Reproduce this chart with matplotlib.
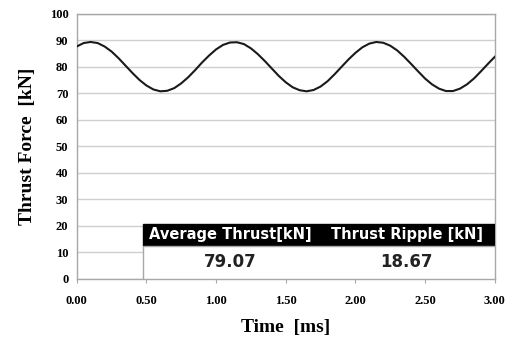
import matplotlib.pyplot as plt
from matplotlib.patches import Rectangle

# thrust force, every 0.05 ms
time_ms = [i * 0.05 for i in range(61)]
thrust_kn = [
    87.6, 88.9, 89.3, 88.9, 87.6, 85.7, 83.2, 80.4, 77.6, 75.0,
    72.9, 71.4, 70.7, 70.9, 71.9, 73.7, 76.0, 78.7, 81.6, 84.2,
    86.5, 88.2, 89.1, 89.2, 88.5, 86.9, 84.7, 82.1, 79.3, 76.5,
    74.1, 72.2, 71.1, 70.7, 71.2, 72.5, 74.5, 77.1, 79.9, 82.7,
    85.2, 87.3, 88.7, 89.3, 89.0, 87.9, 86.1, 83.7, 81.0, 78.2,
    75.5, 73.3, 71.7, 70.8, 70.8, 71.7, 73.3, 75.5, 78.2, 81.0,
    83.7,
]

x_ticks = [0.0, 0.5, 1.0, 1.5, 2.0, 2.5, 3.0]
y_ticks = list(range(0, 101, 10))

table_header = ["Average Thrust[kN]", "Thrust Ripple [kN]"]
table_values = ["79.07", "18.67"]

fig = plt.figure(figsize=(5.08, 3.4), dpi=100)
ax = fig.add_axes([0.151, 0.180, 0.823, 0.780])

ax.plot(time_ms, thrust_kn, color="#1a1a1a", lw=1.5, zorder=3)

ax.set_xlim(0, 3)
ax.set_ylim(0, 100)
ax.set_xticks(x_ticks)
ax.set_xticklabels([f"{v:.2f}" for v in x_ticks])
ax.set_yticks(y_ticks)
ax.yaxis.grid(True, color="#cfcfcf", lw=1.0)
ax.set_axisbelow(True)

for side in ["left", "right", "top", "bottom"]:
    ax.spines[side].set_color("#a8a8a8")
    ax.spines[side].set_linewidth(1.0)

ax.tick_params(axis="x", direction="out", length=3, color="#a8a8a8", pad=9)
ax.tick_params(axis="y", length=0, pad=6)
for lab in ax.get_xticklabels() + ax.get_yticklabels():
    lab.set_family("Liberation Serif")
    lab.set_fontweight("bold")
    lab.set_fontsize(9)

ax.set_xlabel("Time  [ms]", family="Liberation Serif", fontweight="bold",
              fontsize=14, labelpad=8)
ax.set_ylabel("Thrust Force  [kN]", family="Liberation Serif", fontweight="bold",
              fontsize=14, labelpad=10)

# summary table in the lower part of the axes (axes fractions)
t_left, t_split, t_right = 0.158, 0.578, 1.0
t_top, t_mid = 0.208, 0.125
ax.add_patch(Rectangle((t_left, t_mid), t_right - t_left, t_top - t_mid,
                       transform=ax.transAxes, facecolor="black",
                       edgecolor="black", zorder=4))
ax.add_patch(Rectangle((t_left, 0), t_right - t_left, t_mid,
                       transform=ax.transAxes, facecolor="white",
                       edgecolor="#a8a8a8", lw=1.0, zorder=4))
centers = [(t_left + t_split) / 2, (t_split + t_right) / 2]
for cx, head, val in zip(centers, table_header, table_values):
    ax.text(cx, (t_top + t_mid) / 2, head, transform=ax.transAxes,
            ha="center", va="center", color="white", family="DejaVu Sans",
            fontweight="bold", fontsize=10.5, zorder=5)
    ax.text(cx, t_mid / 2, val, transform=ax.transAxes,
            ha="center", va="center", color="#222222", family="DejaVu Sans",
            fontweight="bold", fontsize=12, zorder=5)

fig.savefig("out.png", dpi=100)
